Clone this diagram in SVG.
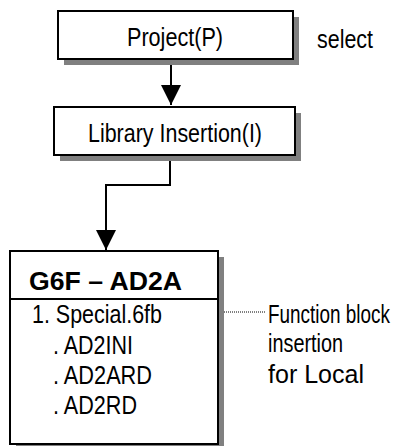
<svg xmlns="http://www.w3.org/2000/svg" width="398" height="446" viewBox="0 0 398 446">
<defs>
<style>
.box{fill:#fff;stroke:#000;stroke-width:2}
.shadow{fill:#808080}
.t{font-family:"Liberation Sans Narrow","Liberation Sans",Arial,sans-serif;font-size:25px;fill:#000}
.b{font-weight:bold}
.ln{fill:none;stroke:#000;stroke-width:2}
</style>
<marker id="arr" markerUnits="userSpaceOnUse" markerWidth="22" markerHeight="22" refX="20" refY="10" orient="auto">
<path d="M0,0 L20,10 L0,20 Z" fill="#000"/>
</marker>
</defs>
<g id="connectors">
<path class="ln" d="M171,59 V105" marker-end="url(#arr)"/>
<path class="ln" d="M170,155 V185 H106 V250" marker-end="url(#arr)"/>
<path d="M222,312 H266" stroke="#000" stroke-width="1" stroke-dasharray="1,1" fill="none"/>
</g>
<g id="project">
<rect class="shadow" x="64" y="17" width="235" height="48"/>
<rect class="box" x="58" y="11" width="235" height="48"/>
<text class="t" x="127" y="46" textLength="96" lengthAdjust="spacingAndGlyphs">Project(P)</text>
</g>
<g id="select">
<text class="t" x="317" y="48" textLength="56" lengthAdjust="spacingAndGlyphs">select</text>
</g>
<g id="library">
<rect class="shadow" x="60" y="113" width="241" height="48"/>
<rect class="box" x="54" y="107" width="241" height="48"/>
<text class="t" x="88" y="142" textLength="174" lengthAdjust="spacingAndGlyphs">Library Insertion(I)</text>
</g>
<g id="g6f">
<rect class="shadow" x="16" y="257" width="208" height="195"/>
<rect class="box" x="10" y="251" width="208" height="193"/>
<line class="ln" x1="10" y1="299" x2="218" y2="299"/>
<text class="t b" x="29" y="290" textLength="153" lengthAdjust="spacingAndGlyphs">G6F – AD2A</text>
<text class="t" x="32" y="323" textLength="130" lengthAdjust="spacingAndGlyphs">1. Special.6fb</text>
<text class="t" x="53" y="354" textLength="80" lengthAdjust="spacingAndGlyphs">. AD2INI</text>
<text class="t" x="53" y="384" textLength="99" lengthAdjust="spacingAndGlyphs">. AD2ARD</text>
<text class="t" x="53" y="414" textLength="84" lengthAdjust="spacingAndGlyphs">. AD2RD</text>
</g>
<g id="note" transform="scale(0.78,1)">
<text class="t" x="343.6" y="323" textLength="156.4" lengthAdjust="spacingAndGlyphs">Function block</text>
<text class="t" x="343.6" y="352" textLength="96.2" lengthAdjust="spacingAndGlyphs">insertion</text>
<text class="t" x="343.6" y="383" textLength="123.1" lengthAdjust="spacingAndGlyphs">for Local</text>
</g>
</svg>
